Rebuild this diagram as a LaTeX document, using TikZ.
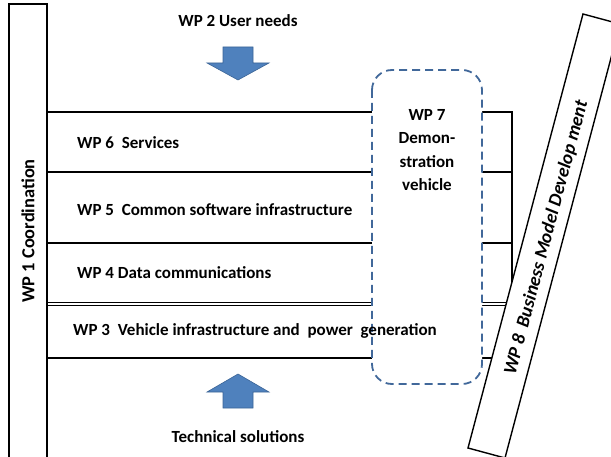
\documentclass[tikz,border=0pt]{standalone}
\usepackage{fontspec}
\setmainfont{Carlito}
\definecolor{dashblue}{HTML}{41689A}
\definecolor{arrfill}{HTML}{4F81BD}
\definecolor{arrline}{HTML}{3B6496}
\begin{document}
\begin{tikzpicture}[x=1pt,y=-1pt,
  band/.style={line width=1.4pt,black},
  barbox/.style={draw=black,fill=white,line width=1.4pt},
  lbl/.style={font=\bfseries\fontsize{17}{19}\selectfont,inner sep=0pt},
  blockarrow/.style={fill=arrfill,draw=arrline,line width=0.6pt},
  wpseven/.style={draw=dashblue,fill=white,line width=1.8pt,dash pattern=on 8pt off 5pt,rounded corners=20pt}]
\useasboundingbox (0,0) rectangle (611,457);
\clip (0,0) rectangle (611,457);
% bands
\draw[band] (47,112) -- (512,112) -- (512,300);
\draw[band] (47,172) -- (512,172);
\draw[band] (47,243) -- (512,243);
\draw[line width=1.3pt] (47,302.4) -- (530,302.4);
\draw[line width=1.3pt] (47,305.4) -- (530,305.4);
\draw[band] (47,358) -- (530,358);
% left bar
\draw[barbox] (9,4) rectangle (47,480);
% WP8 bar
\draw[barbox] (583,14) -- (620,24) -- (505,458) -- (468,448) -- cycle;
% WP7 dashed box
\draw[wpseven] (372,70) rectangle (482,384);
% texts
\node[lbl,rotate=90,font=\bfseries\fontsize{18.4}{20}\selectfont] (wp1) at (28,231) {WP 1 Coordination};
\node[lbl] (wp2) at (238,21) {WP 2 User needs};
\node[lbl,anchor=west] (wp6) at (77,143) {WP 6\ \ Services};
\node[lbl,anchor=west] (wp5) at (77,210) {WP 5\ \ Common software infrastructure};
\node[lbl,anchor=west] (wp4) at (77,273) {WP 4 Data communications};
\node[lbl,anchor=west] (wp3) at (73,331) {WP 3\ \ Vehicle infrastructure and\ \ power\ \ generation};
\node[lbl,align=center,font=\bfseries\fontsize{17}{23.5}\selectfont] (wp7) at (427,150) {WP 7\\Demon-\\stration\\vehicle};
\node[lbl,rotate=75.2,font=\bfseries\itshape\fontsize{18.8}{20}\selectfont] (wp8) at (546.5,238) {WP 8\ \ Business Model Develop ment};
\node[lbl] (tech) at (238,437) {Technical solutions};
% block arrows
\draw[blockarrow] (223,47) -- (253,47) -- (253,63) -- (269,63) -- (238,80) -- (207,63) -- (223,63) -- cycle;
\draw[blockarrow] (223,408) -- (253,408) -- (253,392) -- (269,392) -- (238,374) -- (207,392) -- (223,392) -- cycle;
\end{tikzpicture}
\end{document}
